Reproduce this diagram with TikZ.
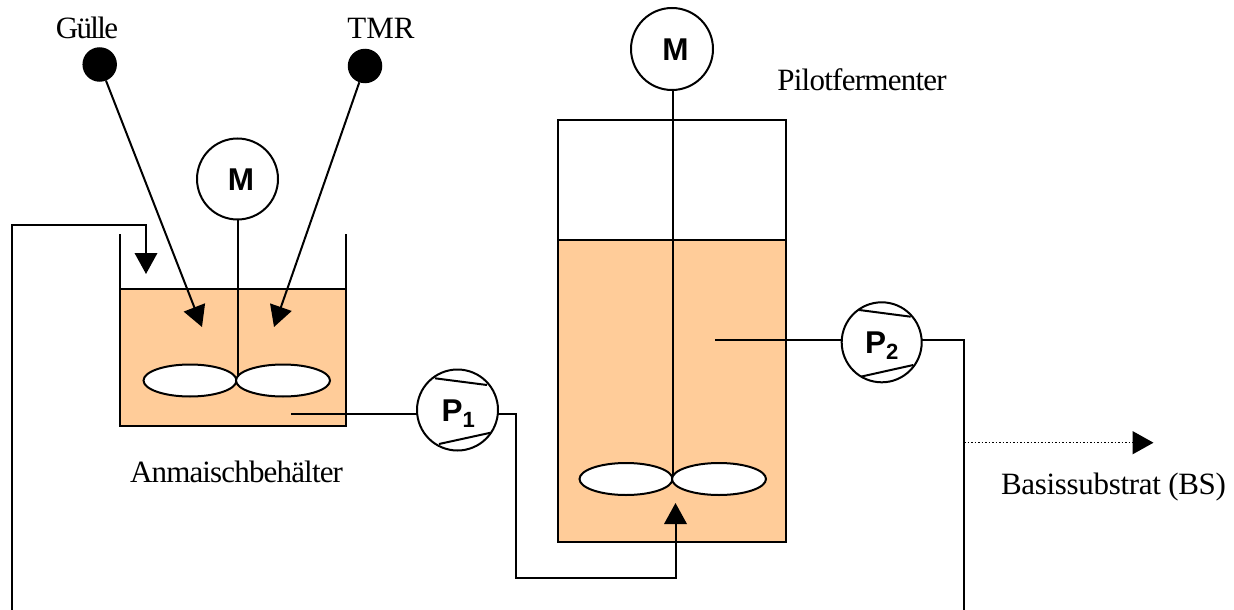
\documentclass[tikz,border=0pt]{standalone}
\usepackage{fontspec}
\setmainfont{Liberation Serif}
\setsansfont{Liberation Sans}
\usetikzlibrary{arrows.meta,shapes.geometric}
\definecolor{liquid}{HTML}{FFCC99}
\tikzset{
  ln/.style={line width=2pt,draw=black,line join=miter},
  arr/.style={ln,-{Triangle[length=21pt,width=22.5pt]}},
  dotarr/.style={line width=1.5pt,dash pattern=on 1.5pt off 2pt,-{Triangle[length=21pt,width=23pt]}},
  tank/.style={ln,fill=liquid,rectangle,inner sep=0pt,outer sep=0pt,anchor=north west},
  blade/.style={ln,fill=white,ellipse,inner sep=0pt,outer sep=0pt},
  disc/.style={ln,fill=white,circle,inner sep=0pt,outer sep=0pt,minimum size=81pt},
  src/.style={circle,fill=black,inner sep=0pt,outer sep=0pt,minimum size=34.5pt},
  lab/.style={font=\fontsize{31}{33}\selectfont\addfontfeature{LetterSpace=#1},inner sep=0pt,anchor=base},
  mlab/.style={font=\sffamily\bfseries\fontsize{31.5}{33}\selectfont,inner sep=0pt},
}
\begin{document}
\begin{tikzpicture}[x=1pt,y=-1pt]
\useasboundingbox (0,0) rectangle (1234,610);
% tanks
\node[tank,minimum width=226pt,minimum height=137pt] (t1) at (119.5,289) {};
\node[tank,minimum width=228.5pt,minimum height=302pt] (t2) at (557.5,240) {};
\node[ln,rectangle,inner sep=0pt,outer sep=0pt,anchor=north west,minimum width=228.5pt,minimum height=120pt] (t2top) at (557.5,120) {};
\coordinate (w1a) at (119.5,234); \coordinate (w1b) at (345.5,234);
\draw[ln] (w1a) -- (t1.north west);
\draw[ln] (w1b) -- (t1.north east);
% motors and shafts
\node[disc] (m1) at (237.5,179) {};
\node[disc,minimum size=82pt] (m2) at (672,49) {};
\node[mlab] (m1l) at (241,180) {M};
\node[mlab] (m2l) at (675.5,49.5) {M};
\coordinate (h1) at (237.5,380);
\coordinate (h2) at (673.3,479);
\draw[ln] (h1 |- m1.south) -- (h1);
\draw[ln] (h2 |- m2.south) -- (h2);
\node[blade,minimum width=93pt,minimum height=32pt] (b1l) at (190,380.5) {};
\node[blade,minimum width=94pt,minimum height=32pt] (b1r) at (283,380.5) {};
\node[blade,minimum width=93pt,minimum height=32pt] (b2l) at (626,479) {};
\node[blade,minimum width=94pt,minimum height=32pt] (b2r) at (719,479) {};
% feeds
\node[src] (g) at (99.7,64.5) {};
\node[src] (r) at (365,66) {};
\coordinate (gt) at (202,327);
\coordinate (rt) at (274,327);
\draw[arr] (g) -- (gt);
\draw[arr] (r) -- (rt);
\node[lab=-5.5] (lg) at (87,38.2) {Gülle};
\node[lab=0] (lr) at (381,38.2) {TMR};
% pumps
\node[disc] (p1) at (457.5,410) {};
\node[disc,minimum size=80pt] (p2) at (881.7,342.3) {};
\node[mlab,anchor=base west] (p1l) at (441.5,421) {P\textsubscript{1}};
\node[mlab,anchor=base west] (p2l) at (865,353) {P\textsubscript{2}};
\draw[ln] (435,378.3) -- (487,385);
\draw[ln] (439,444) -- (490.7,432.7);
\draw[ln] (859.3,310) -- (910.7,316.7);
\draw[ln] (860.7,376.7) -- (913.3,365);
% pipes
\coordinate (o1) at (291,414.3);
\coordinate (p1in) at (417.3,414.3);
\coordinate (p1out) at (497.7,414.3);
\coordinate (c1) at (515.5,414.3);
\coordinate (c2) at (515.5,577.5);
\coordinate (c3) at (675.5,577.5);
\coordinate (c4) at (675.5,503);
\draw[ln] (o1) -- (p1in);
\draw[arr] (p1out) -- (c1) -- (c2) -- (c3) -- (c4);
\coordinate (o2) at (715,340);
\coordinate (p2in) at (841.8,340);
\coordinate (p2out) at (921.7,340);
\coordinate (d1) at (964,340);
\coordinate (d2) at (964,610);
\draw[ln] (o2) -- (p2in);
\draw[ln] (p2out) -- (d1) -- (d2);
\coordinate (e1) at (12,610);
\coordinate (e2) at (12,224.5);
\coordinate (e3) at (146,224.5);
\coordinate (e4) at (146,274);
\draw[arr] (e1) -- (e2) -- (e3) -- (e4);
\coordinate (f1) at (964,442.7);
\coordinate (f2) at (1153.5,442.7);
\draw[dotarr] (f1) -- (f2);
% labels
\node[lab=-2.4] (lp) at (862,90) {Pilotfermenter};
\node[lab=-2.7] (la) at (236.5,482) {Anmaischbehälter};
\node[lab=-1] (lb) at (1113.5,494) {Basissubstrat (BS)};
\end{tikzpicture}
\end{document}
